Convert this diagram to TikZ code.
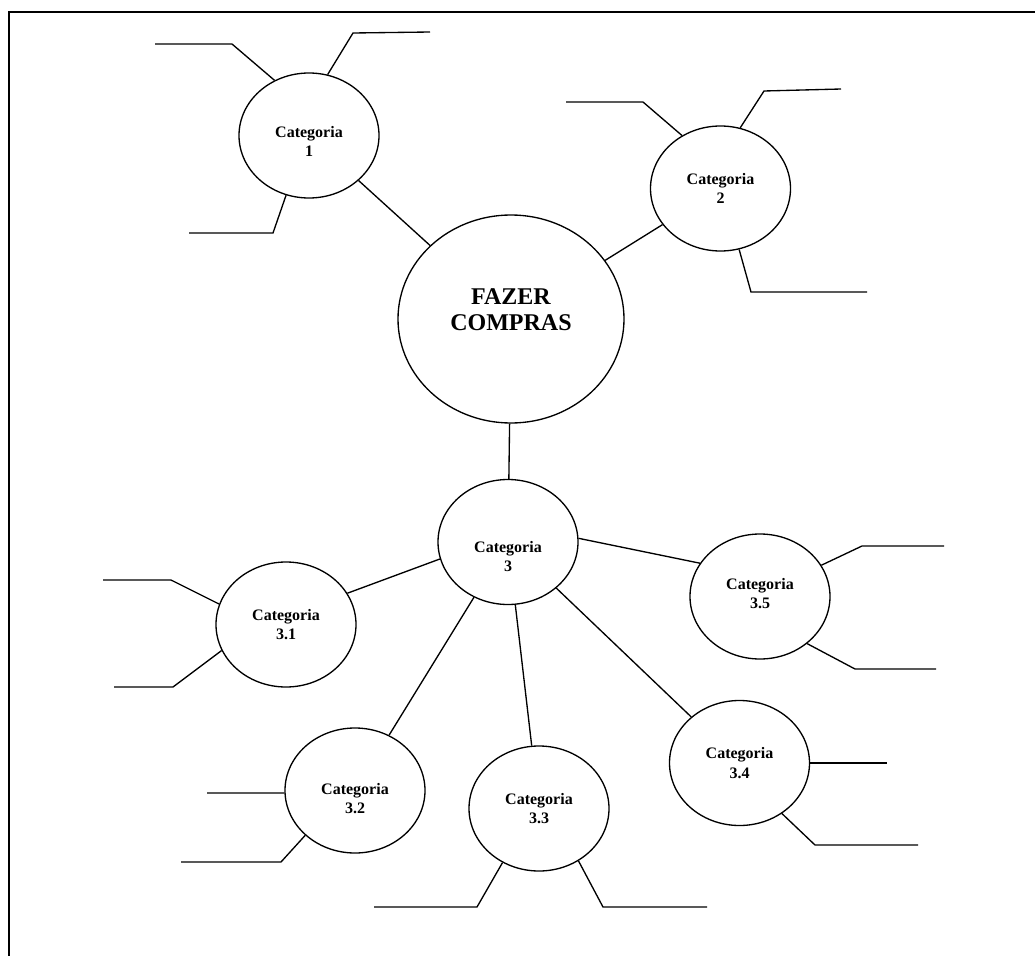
\documentclass[tikz,border=0pt]{standalone}
\usepackage{fontspec}
\setmainfont{Liberation Serif}
\usetikzlibrary{shapes.geometric}

\tikzset{
  bubble/.style={ellipse,draw,line width=1pt,inner sep=0pt,
    minimum width=105pt,minimum height=93.75pt},
  bigbubble/.style={bubble,minimum width=169.5pt,minimum height=156pt},
  cattext/.style={align=center,font=\bfseries\fontsize{12}{14.5}\selectfont},
  bigtext/.style={align=center,font=\bfseries\fontsize{18}{20}\selectfont},
  link/.style={line width=1pt},
  frame/.style={line width=1.2pt}
}

\begin{document}
\begin{tikzpicture}[x=0.75pt,y=-0.75pt]
    \useasboundingbox (0,0) rectangle (1035,956);
    \draw[frame] (1035,12) -- (9,12) -- (9,956);

    \node[bigbubble,label={[bigtext,yshift=7pt]center:FAZER\\COMPRAS}] (compras) at (511,319) {};
    \node[bubble,label={[cattext,yshift=-4.5pt]center:Categoria\\1}] (cat1) at (309,135.5) {};
    \node[bubble,label={[cattext]center:Categoria\\2}] (cat2) at (720.5,188.5) {};
    \node[bubble,label={[cattext,yshift=-11pt]center:Categoria\\3}] (cat3) at (508,542) {};
    \node[bubble,label={[cattext]center:Categoria\\3.1}] (cat31) at (286,624.5) {};
    \node[bubble,label={[cattext,yshift=-6pt]center:Categoria\\3.2}] (cat32) at (355,790.5) {};
    \node[bubble,label={[cattext]center:Categoria\\3.3}] (cat33) at (539,808.5) {};
    \node[bubble,label={[cattext]center:Categoria\\3.4}] (cat34) at (739.5,763) {};
    \node[bubble,label={[cattext,yshift=2pt]center:Categoria\\3.5}] (cat35) at (760,596.5) {};

    % ligacoes entre categorias
    \draw[link] (cat1) -- (compras);
    \draw[link] (cat2) -- (compras);
    \draw[link] (compras) -- (cat3);
    \draw[link] (cat3.194) -- (cat31.27);
    \draw[link] (cat3) -- (cat32);
    \draw[link] (cat3) -- (cat33);
    \draw[link] (cat3) -- (cat34);
    \draw[link] (cat3.3) -- (cat35.151);

    % ramos livres
    \draw[link] (cat1.122) -- (232,44) -- (155,44);
    \draw[link] (cat1.73) -- (353,33) -- (430,32);
    \draw[link] (cat1.249) -- (273,233) -- (189,233);

    \draw[link] (cat2.126) -- (643,102) -- (566,102);
    \draw[link] (cat2.72) -- (764,91) -- (841,89);
    \draw[link] (cat2.287) -- (751,292) -- (867,292);

    \draw[link] (cat31.163) -- (171,580) -- (103,580);
    \draw[link] (cat31.202) -- (173,687) -- (114,687);

    \draw[link] (cat32.182) -- (207,793);
    \draw[link] (cat32.222) -- (281,862) -- (181,862);

    \draw[link] (cat33.236) -- (477,907) -- (374,907);
    \draw[link] (cat33.307) -- (603,907) -- (707,907);

    \draw[link] (cat34.0) -- (887,763);
    \draw[link] (cat34.310) -- (815,845) -- (918,845);

    \draw[link] (cat35.27) -- (862,546) -- (944,546);
    \draw[link] (cat35.315) -- (855,669) -- (936,669);
\end{tikzpicture}
\end{document}
